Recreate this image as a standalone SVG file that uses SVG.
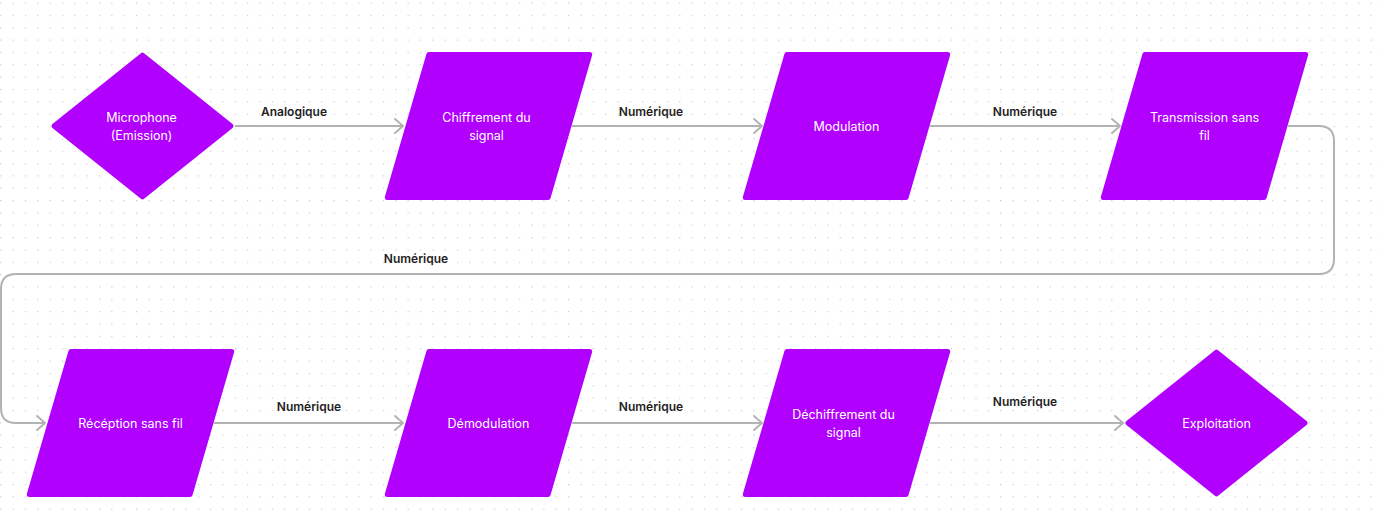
<svg xmlns="http://www.w3.org/2000/svg" xmlns:xlink="http://www.w3.org/1999/xlink" width="1383" height="513" viewBox="0 0 1383 513">
<style>
.shape{fill:#B200FF;stroke:#B200FF;stroke-width:5;stroke-linejoin:round}
.nt{font-family:Inter,"Liberation Sans",sans-serif;font-size:12.5px;fill:#ffffff;text-anchor:middle}
.lb{font-family:Inter,"Liberation Sans",sans-serif;font-size:12px;font-weight:600;fill:#1e1e1e;text-anchor:middle}
.edge{fill:none;stroke:#b3b3b3;stroke-width:2;marker-end:url(#arr)}
</style>
<defs>
<pattern id="dots" x="0.2" y="2.5" width="12.345" height="12.345" patternUnits="userSpaceOnUse">
<rect x="0" y="0" width="1.2" height="1.2" fill="#c8c8c8"/>
</pattern>
<marker id="arr" markerUnits="userSpaceOnUse" markerWidth="12" markerHeight="18" refX="10" refY="8" orient="auto" viewBox="0 0 12 18" overflow="visible">
<path d="M2,1 L10,8 L2,15" fill="none" stroke="#b3b3b3" stroke-width="2" stroke-linejoin="round" stroke-linecap="round"/>
</marker>
<polygon id="para" points="-59.6,-71.5 101.2,-71.5 59.6,71.5 -101.2,71.5"/>
<polygon id="dia" points="-88.5,0 0,-70.8 88.5,0 0,70.8"/>
</defs>
<rect width="1383" height="513" fill="#ffffff"/>
<rect width="1383" height="513" fill="url(#dots)"/>
<g id="connectors">
<path class="edge" d="M235,126 H403"/>
<path class="edge" d="M572,126 H762"/>
<path class="edge" d="M930,126 H1120"/>
<path class="edge" d="M1288,126 H1319 Q1334,126 1334,141 V259 Q1334,274 1319,274 H16 Q1,274 1,289 V408 Q1,423 16,423 H45"/>
<path class="edge" d="M214,423 H403"/>
<path class="edge" d="M572,423 H762"/>
<path class="edge" d="M930,423 H1123"/>
<text class="lb" x="294" y="115.5">Analogique</text>
<text class="lb" x="651" y="115.5">Numérique</text>
<text class="lb" x="1025" y="115.5">Numérique</text>
<text class="lb" x="416" y="262.5">Numérique</text>
<text class="lb" x="309" y="410.5">Numérique</text>
<text class="lb" x="651" y="410.5">Numérique</text>
<text class="lb" x="1025" y="405.5">Numérique</text>
</g>
<g id="microphone" transform="translate(142.5,126)">
<use href="#dia" class="shape"/>
<text class="nt" x="-1" y="-4.5">Microphone</text>
<text class="nt" x="-1" y="13.5">(Emission)</text>
</g>
<g id="chiffrement" transform="translate(488.5,126)">
<use href="#para" class="shape"/>
<text class="nt" x="-2" y="-4.5">Chiffrement du</text>
<text class="nt" x="-2" y="13.5">signal</text>
</g>
<g id="modulation" transform="translate(846.5,126)">
<use href="#para" class="shape"/>
<text class="nt" x="0" y="4.5">Modulation</text>
</g>
<g id="transmission" transform="translate(1204.5,126)">
<use href="#para" class="shape"/>
<text class="nt" x="0" y="-4.5">Transmission sans</text>
<text class="nt" x="0" y="13.5">fil</text>
</g>
<g id="reception" transform="translate(130.5,423)">
<use href="#para" class="shape"/>
<text class="nt" x="0" y="4.5">Récéption sans fil</text>
</g>
<g id="demodulation" transform="translate(488.5,423)">
<use href="#para" class="shape"/>
<text class="nt" x="0" y="4.5">Démodulation</text>
</g>
<g id="dechiffrement" transform="translate(846.5,423)">
<use href="#para" class="shape"/>
<text class="nt" x="-3" y="-4.5">Déchiffrement du</text>
<text class="nt" x="-3" y="13.5">signal</text>
</g>
<g id="exploitation" transform="translate(1216.5,423)">
<use href="#dia" class="shape"/>
<text class="nt" x="0" y="4.5">Exploitation</text>
</g>
</svg>
